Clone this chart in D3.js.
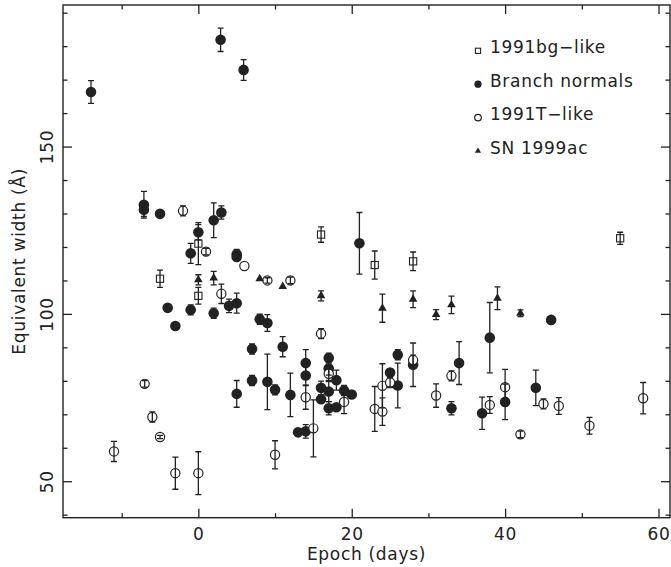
<!DOCTYPE html>
<html>
<head>
<meta charset="utf-8">
<script src="https://cdn.jsdelivr.net/npm/d3@7"></script>
<style>
  body { margin: 0; background: #fff; }
  svg text { font-family: "DejaVu Sans", sans-serif; fill: #222; letter-spacing: 0.7px; }
</style>
</head>
<body>
<div id="chart"></div>
<script>
// 1991bg-like (open squares)
var bgEpoch = [0, -5, 0, 16, 23, 28, 55];
var bgEW    = [121.0, 110.5, 105.4, 123.7, 114.6, 115.7, 122.6];
var bgErr   = [6.3, 2.6, 2.5, 2.3, 4.2, 2.8, 1.8];

// Branch normals (filled circles)
var bnEpoch = [-14, 2.9, 5.9, -7.1, -7.1, -5, 2, 3, 0, -1, 5, 5,
               -4, -3, -1, 2, 4, 5, 8, 9, 7, 11, 14, 14, 17, 17, 26,
               5, 7, 9, 10, 12, 13, 14, 16, 16, 17, 17, 18, 18, 19, 20,
               21, 25, 26, 28, 33, 34, 38, 37, 40, 44, 46];
var bnEW    = [166.3, 181.9, 172.9, 132.6, 131.1, 129.9, 128.0, 130.3, 124.4, 118.1, 117.8, 117.0,
               101.8, 96.4, 101.2, 100.2, 102.4, 103.2, 98.4, 97.3, 89.5, 90.2, 85.3, 81.6, 86.8, 83.7, 87.8,
               76.1, 80.1, 79.7, 77.3, 75.8, 64.6, 64.9, 77.9, 74.5, 76.8, 71.8, 80.2, 72.1, 77.1, 75.9,
               121.1, 82.5, 78.6, 84.8, 71.8, 85.3, 92.9, 70.3, 73.7, 77.9, 98.2];
var bnErr   = [3.4, 3.5, 3.1, 4.0, 2.0, 0, 5.2, 2.0, 2.3, 3.0, 1.5, 1.0,
               0, 0, 1.5, 1.5, 2.0, 3.0, 1.5, 2.5, 1.5, 3.0, 4.0, 3.0, 1.5, 2.0, 1.5,
               4.0, 1.5, 8.3, 1.5, 6.5, 0, 2.0, 2.0, 0, 3.0, 2.0, 3.0, 0, 1.5, 0,
               9.2, 1.0, 6.7, 6.5, 2.0, 6.4, 10.5, 4.8, 5.3, 5.3, 0];

// 1991T-like (open circles)
var tEpoch = [-2, 1, 6, 3, 9, 12, 16, -7, -6, -5, -11, -3, 0, 10, 14, 15, 17, 19,
              23, 24, 24, 25, 28, 31, 33, 38, 40, 42, 45, 47, 51, 58];
var tEW    = [130.8, 118.6, 114.3, 106.0, 110.0, 110.0, 94.1, 79.1, 69.2, 63.2, 58.9, 52.4, 52.4, 57.9, 75.1, 65.8, 82.1, 73.7,
              71.6, 78.5, 70.8, 79.5, 86.2, 75.6, 81.5, 72.8, 78.1, 64.0, 73.1, 72.5, 66.6, 74.8];
var tErr   = [1.5, 1.0, 0, 2.9, 0.8, 1.0, 1.5, 1.0, 1.5, 0.5, 3.0, 4.8, 6.4, 4.2, 3.6, 8.5, 2.0, 3.5,
              6.7, 6.6, 4.1, 1.5, 1.5, 3.5, 1.5, 2.5, 5.3, 1.0, 1.5, 2.5, 2.5, 4.7];

// SN 1999ac (filled triangles)
var acEpoch = [0, 2, 8, 11, 16, 24, 28, 31, 33, 39, 42];
var acEW    = [110.2, 110.7, 110.5, 108.2, 105.4, 101.7, 104.4, 99.8, 102.7, 104.7, 100.2];
var acErr   = [1.5, 2.0, 0, 0, 1.5, 4.2, 2.5, 1.5, 2.6, 3.4, 1.0];

var xMajor = [0, 20, 40, 60], xMinor = [-10, 10, 30, 50];
var yMajor = [50, 100, 150], yMinor = [40, 60, 70, 80, 90, 110, 120, 130, 140, 160, 170, 180, 190];

var series = [
  {name: '1991bg\u2212like', kind: 'square', epoch: bgEpoch, ew: bgEW, err: bgErr},
  {name: 'Branch normals', kind: 'dot', epoch: bnEpoch, ew: bnEW, err: bnErr},
  {name: '1991T\u2212like', kind: 'circle', epoch: tEpoch, ew: tEW, err: tErr},
  {name: 'SN 1999ac', kind: 'triangle', epoch: acEpoch, ew: acEW, err: acErr}
];

var W = 671, H = 567;
var pL = 63, pR = 670, pT = 5, pB = 517.7;
var ink = '#222';

var x = d3.scaleLinear().domain([-17.65, 61.5]).range([pL, pR]);
var y = d3.scaleLinear().domain([39.1, 192.3]).range([pB, pT]);

var svg = d3.select('#chart').append('svg')
    .attr('width', W).attr('height', H);

// draws one marker, big for the plot, small for the legend
function marker(g, kind, cx, cy, s) {
  if (kind === 'dot') {
    g.append('circle').attr('cx', cx).attr('cy', cy).attr('r', 5.3 * s).attr('fill', ink);
  } else if (kind === 'circle') {
    g.append('circle').attr('cx', cx).attr('cy', cy).attr('r', 4.6 * s)
      .attr('fill', '#fff').attr('stroke', ink).attr('stroke-width', 1.2);
  } else if (kind === 'square') {
    var h = 3.6 * s;
    g.append('rect').attr('x', cx - h).attr('y', cy - h).attr('width', 2 * h).attr('height', 2 * h)
      .attr('fill', '#fff').attr('stroke', ink).attr('stroke-width', 1.1);
  } else {
    g.append('path')
      .attr('d', d3.symbol().type(d3.symbolTriangle).size(32 * s * s)())
      .attr('transform', 'translate(' + cx + ',' + cy + ')')
      .attr('fill', ink);
  }
}

// axes: major / minor ticks on all four sides, pointing inward
function ticks(axisFn, scale, vals, len, labels) {
  return axisFn(scale).tickValues(vals).tickSizeInner(-len).tickSizeOuter(0)
    .tickFormat(labels ? d3.format('d') : '');
}

var axes = [
  {fn: d3.axisBottom, sc: x, pos: 'translate(0,' + pB + ')', major: xMajor, minor: xMinor, lab: true},
  {fn: d3.axisTop, sc: x, pos: 'translate(0,' + pT + ')', major: xMajor, minor: xMinor, lab: false},
  {fn: d3.axisLeft, sc: y, pos: 'translate(' + pL + ',0)', major: yMajor, minor: yMinor, lab: true},
  {fn: d3.axisRight, sc: y, pos: 'translate(' + pR + ',0)', major: yMajor, minor: yMinor, lab: false}
];

axes.forEach(function (a) {
  var gMaj = svg.append('g').attr('transform', a.pos).call(ticks(a.fn, a.sc, a.major, 9, a.lab));
  var gMin = svg.append('g').attr('transform', a.pos).call(ticks(a.fn, a.sc, a.minor, 4.5, false));
  [gMaj, gMin].forEach(function (g) {
    g.select('.domain').remove();
    g.selectAll('line').attr('stroke', ink).attr('stroke-width', 1.3);
    g.selectAll('text').style('font-size', '17px').attr('fill', ink);
  });
  if (a.lab && a.fn === d3.axisBottom) {
    gMaj.selectAll('text').attr('y', 22.5).attr('dy', 0);
  }
  if (a.lab && a.fn === d3.axisLeft) {
    gMaj.selectAll('text')
      .attr('x', 0).attr('y', 0).attr('dy', 0)
      .attr('text-anchor', 'middle')
      .attr('transform', 'translate(-10,0) rotate(-90)');
  }
});

// frame
svg.append('rect')
  .attr('x', pL).attr('y', pT)
  .attr('width', pR - pL).attr('height', pB - pT)
  .attr('fill', 'none').attr('stroke', ink).attr('stroke-width', 1.4);

// points, then error bars on top (as in the original plot)
var plot = svg.append('g');
series.forEach(function (s) {
  s.epoch.forEach(function (d, i) {
    marker(plot, s.kind, x(d), y(s.ew[i]), 1);
  });
});
series.forEach(function (s) {
  s.epoch.forEach(function (d, i) {
    var e = s.err[i];
    if (!e) return;
    var cx = x(d), y0 = y(s.ew[i] - e), y1 = y(s.ew[i] + e);
    var p = 'M' + cx + ',' + y0 + 'V' + y1 +
            'M' + (cx - 3) + ',' + y0 + 'H' + (cx + 3) +
            'M' + (cx - 3) + ',' + y1 + 'H' + (cx + 3);
    plot.append('path').attr('d', p).attr('fill', 'none')
      .attr('stroke', ink).attr('stroke-width', 1.3);
  });
});

// legend
var leg = svg.append('g');
series.forEach(function (s, i) {
  var by = 53.3 + i * 33.4;
  marker(leg, s.kind, 478, by - 2.5, s.kind === 'dot' ? 0.68 : 0.72);
  leg.append('text').attr('x', 490).attr('y', by)
    .style('font-size', '17px').text(s.name);
});

// axis titles
svg.append('text')
  .attr('x', (pL + pR) / 2).attr('y', 560)
  .attr('text-anchor', 'middle').style('font-size', '17px')
  .text('Epoch (days)');

svg.append('text')
  .attr('transform', 'translate(25,' + ((pT + pB) / 2) + ') rotate(-90)')
  .attr('text-anchor', 'middle').style('font-size', '17px')
  .text('Equivalent width (\u00c5)');
</script>
</body>
</html>
